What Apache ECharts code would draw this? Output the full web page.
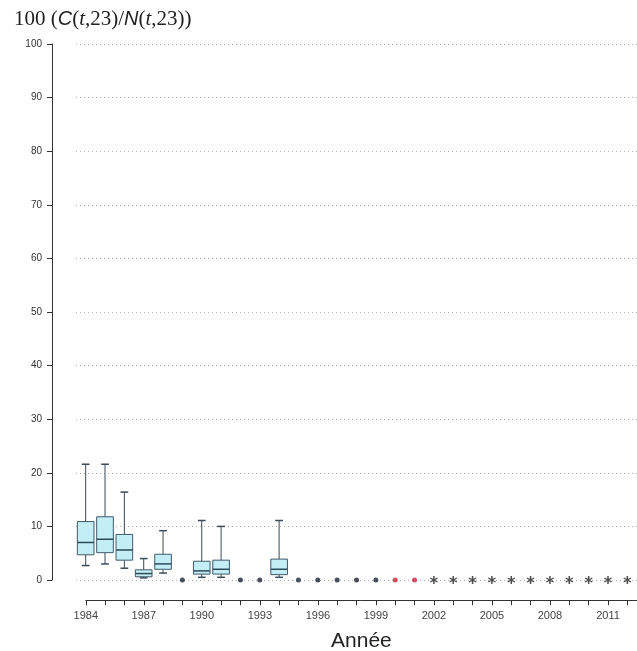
<!DOCTYPE html>
<html>
<head>
<meta charset="utf-8">
<script src="https://cdn.jsdelivr.net/npm/echarts@6/dist/echarts.min.js"></script>
<style>
html,body{margin:0;padding:0;background:#fff;}
#chart{width:637px;height:651px;}
</style>
</head>
<body>
<div id="chart"></div>
<script>
// ---- data ----
const years = ['1984','1985','1986','1987','1988','1989','1990','1991','1992','1993','1994','1995','1996','1997','1998','1999','2000','2001','2002','2003','2004','2005','2006','2007','2008','2009','2010','2011','2012'];
const boxYears = ['1984','1985','1986','1987','1988','1990','1991','1994'];
const whiskerLow  = [2.7, 3.0, 2.2, 0.4, 1.3, 0.5, 0.5, 0.5];
const q1          = [4.7, 5.1, 3.7, 0.6, 2.0, 1.1, 1.1, 1.0];
const median      = [7.0, 7.6, 5.6, 1.2, 3.0, 1.7, 2.0, 2.0];
const q3          = [10.9, 11.8, 8.5, 1.9, 4.8, 3.5, 3.7, 3.9];
const whiskerHigh = [21.6, 21.6, 16.4, 4.0, 9.2, 11.1, 10.0, 11.1];
const dotYears  = ['1989','1992','1993','1995','1996','1997','1998','1999'];
const dotValues = [0, 0, 0, 0, 0, 0, 0, 0];
const redYears  = ['2000','2001'];
const redValues = [0, 0];
const starYears = ['2002','2003','2004','2005','2006','2007','2008','2009','2010','2011','2012'];
const starValues = [0, 0, 0, 0, 0, 0, 0, 0, 0, 0, 0];
const yTicks = { min: 0, max: 100, interval: 10 };

// ---- chart ----
const chart = echarts.init(document.getElementById('chart'), null, {renderer: 'canvas'});
const asterisk = 'path://M11.8,0L11.8,20L8.2,20L8.2,0Z M2.24,3.44L19.56,13.44L17.76,16.56L0.44,6.56Z M19.56,6.56L2.24,16.56L0.44,13.44L17.76,3.44Z';

const boxData = boxYears.map((y, i) => [y, whiskerLow[i], q1[i], median[i], q3[i], whiskerHigh[i]]);
const stroke = '#3b4a55';

const option = {
  backgroundColor: '#ffffff',
  animation: false,
  title: {
    left: 9, top: 4,
    text: '{a|100 (}{b|C}{a|(}{c|t}{a|,23)/}{b|N}{a|(}{c|t}{a|,23))}',
    textStyle: {
      fontWeight: 'normal',
      rich: {
        a: {fontFamily: 'Liberation Serif', fontWeight: 'normal', fontSize: 21, color: '#222'},
        b: {fontFamily: 'Liberation Sans', fontWeight: 'normal', fontStyle: 'italic', fontSize: 20, color: '#222'},
        c: {fontFamily: 'Liberation Serif', fontWeight: 'normal', fontStyle: 'italic', fontSize: 21, color: '#222'}
      }
    }
  },
  grid: [
    {left: 76, top: 44, width: 569, height: 536},
    {left: 85.8, top: 600, width: 559, height: 1}
  ],
  xAxis: [
    {
      type: 'category', gridIndex: 0, data: years, boundaryGap: true, show: false
    },
    {
      type: 'value', gridIndex: 1, min: 1984, max: 2012.5, interval: 1,
      position: 'bottom',
      axisLine: {show: true, lineStyle: {color: '#333', width: 1}},
      axisTick: {show: true, length: 5, lineStyle: {color: '#333'}},
      splitLine: {show: false},
      axisLabel: {
        margin: 10, fontSize: 11, color: '#444', fontFamily: 'Liberation Sans',
        showMaxLabel: false,
        formatter: v => (Number.isInteger(v) && (v - 1984) % 3 === 0) ? String(v) : ''
      },
      name: 'Année', nameLocation: 'middle', nameGap: 30,
      nameTextStyle: {fontFamily: 'Liberation Sans', fontSize: 21, color: '#222'}
    }
  ],
  yAxis: [
    {
      type: 'value', gridIndex: 0, min: yTicks.min, max: yTicks.max, interval: yTicks.interval,
      offset: 24,
      axisLine: {show: true, lineStyle: {color: '#333', width: 1}},
      axisTick: {show: true, length: 5, lineStyle: {color: '#333'}},
      axisLabel: {margin: 10, fontSize: 10, color: '#333', fontFamily: 'Liberation Sans'},
      splitLine: {show: true, lineStyle: {color: '#b0b0b0', type: [1, 3], width: 1}}
    },
    {type: 'value', gridIndex: 1, show: false, min: 0, max: 1}
  ],
  series: [
    {
      type: 'custom', xAxisIndex: 0, yAxisIndex: 0,
      data: boxData,
      encode: {x: 0, y: [1, 2, 3, 4, 5]},
      renderItem: function (params, api) {
        const x = api.value(0);
        const pLow = api.coord([x, api.value(1)]);
        const pQ1 = api.coord([x, api.value(2)]);
        const pMed = api.coord([x, api.value(3)]);
        const pQ3 = api.coord([x, api.value(4)]);
        const pHigh = api.coord([x, api.value(5)]);
        const band = api.size([1, 0])[0];
        const hw = band * 0.43;
        const cw = band * 0.2;
        const cx = pMed[0];
        const ls = {stroke: stroke, lineWidth: 1, fill: null};
        return {
          type: 'group',
          children: [
            {type: 'line', shape: {x1: cx, y1: pHigh[1], x2: cx, y2: pQ3[1]}, style: ls},
            {type: 'line', shape: {x1: cx, y1: pQ1[1], x2: cx, y2: pLow[1]}, style: ls},
            {type: 'line', shape: {x1: cx - cw, y1: pHigh[1], x2: cx + cw, y2: pHigh[1]}, style: {stroke: stroke, lineWidth: 1.5}},
            {type: 'line', shape: {x1: cx - cw, y1: pLow[1], x2: cx + cw, y2: pLow[1]}, style: {stroke: stroke, lineWidth: 1.5}},
            {type: 'rect', shape: {x: cx - hw, y: pQ3[1], width: 2 * hw, height: pQ1[1] - pQ3[1]},
              style: {fill: '#c3eef5', stroke: '#3f5a6a', lineWidth: 1}},
            {type: 'line', shape: {x1: cx - hw, y1: pMed[1], x2: cx + hw, y2: pMed[1]}, style: {stroke: '#2c4a5a', lineWidth: 1.5}}
          ]
        };
      }
    },
    {
      type: 'scatter', xAxisIndex: 0, yAxisIndex: 0,
      data: dotYears.map((y, i) => [y, dotValues[i]]),
      symbol: 'circle', symbolSize: 5,
      itemStyle: {color: '#1c2233'}
    },
    {
      type: 'scatter', xAxisIndex: 0, yAxisIndex: 0,
      data: redYears.map((y, i) => [y, redValues[i]]),
      symbol: 'circle', symbolSize: 5,
      itemStyle: {color: '#c8243c'}
    },
    {
      type: 'scatter', xAxisIndex: 0, yAxisIndex: 0,
      data: starYears.map((y, i) => [y, starValues[i]]),
      symbol: asterisk, symbolSize: 8,
      itemStyle: {color: '#222'}
    }
  ]
};
chart.setOption(option);
</script>
</body>
</html>
